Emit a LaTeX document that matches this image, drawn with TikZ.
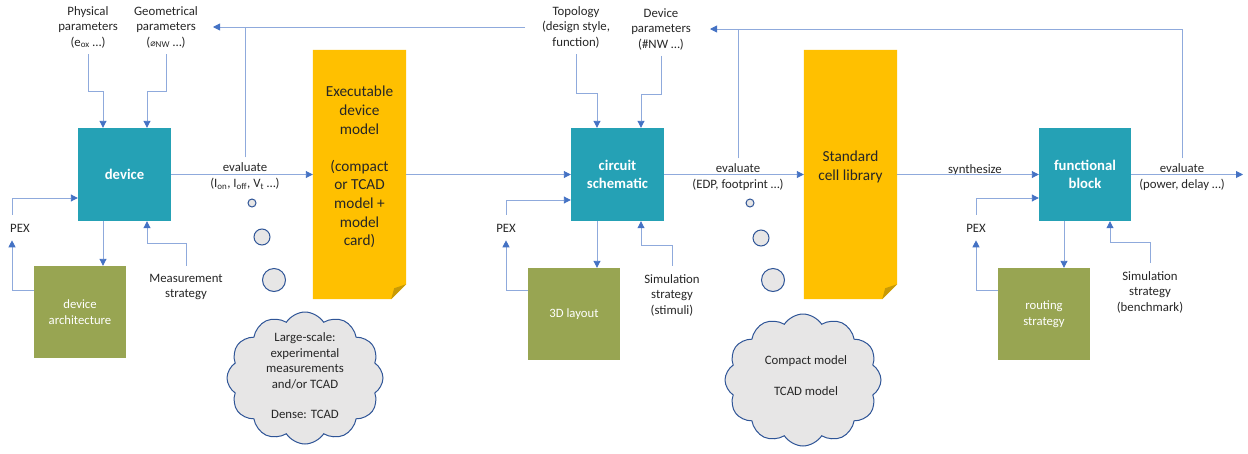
\documentclass[tikz,border=0pt]{standalone}
\usepackage{fontspec}
\setmainfont{Carlito}
\newfontfamily\symfont{DejaVu Sans}
\usetikzlibrary{arrows.meta,shapes.symbols,calc}
\definecolor{boxteal}{HTML}{25A1B5}
\definecolor{boxgreen}{HTML}{98A552}
\definecolor{noteyel}{HTML}{FFC000}
\definecolor{notefold}{HTML}{C89A06}
\definecolor{cloudfill}{HTML}{E7E6E6}
\definecolor{cloudline}{HTML}{2F5597}
\definecolor{linec}{HTML}{8FAADC}
\definecolor{headc}{HTML}{4472C4}
\definecolor{txtc}{HTML}{262626}
\begin{document}
\begin{tikzpicture}[x=1pt,y=-1pt,
  blk/.style={fill=boxteal, text=white, font=\bfseries\fontsize{14.7}{18}\selectfont, minimum width=93pt, minimum height=93pt, inner sep=0pt, align=center},
  grn/.style={fill=boxgreen, text=white, font=\fontsize{12.7}{16}\selectfont, minimum width=92pt, minimum height=92pt, inner sep=0pt, align=center},
  lbl/.style={text=txtc, font=\fontsize{12.8}{15.5}\selectfont, align=center, inner sep=1pt},
  evl/.style={text=txtc, font=\fontsize{12.8}{16}\selectfont, align=center, inner sep=1pt},
  notebox/.style={minimum width=93pt, minimum height=249pt, inner sep=0pt},
  notetxt/.style={text=txtc, font=\fontsize{15.3}{18.6}\selectfont, align=center, inner sep=0pt},
  bubble/.style={circle, draw=cloudline, fill=cloudfill, line width=1pt, inner sep=0pt},
  thought/.style={cloud, cloud puffs=12, cloud puff arc=115, aspect=1.2, draw=cloudline, fill=cloudfill, line width=1pt, minimum width=156pt, minimum height=132pt, inner sep=0pt},
  conn/.style={draw=linec, line width=0.9pt, -{Triangle[length=7pt,width=7pt,color=headc]}},
  wire/.style={draw=linec, line width=0.9pt}]
\useasboundingbox (0,0) rectangle (1248,453);

% main blocks
\node[blk] (dev) at (124.5,174.5) {device};
\node[blk] (circ) at (617.5,174.5) {circuit\\schematic};
\node[blk, minimum width=92pt] (func) at (1085,174.5) {functional\\block};
\node[grn] (arch) at (80,312) {device\\architecture};
\node[grn] (lay) at (574,314) {3D layout};
\node[grn] (rout) at (1044,314) {routing\\strategy};

% notes
\node[notebox] (exe) at (359.5,174.5) {};
\node[notebox] (std) at (850.5,174.5) {};
\foreach \n in {exe,std}{
  \fill[noteyel] (\n.north west) -- (\n.north east) -- ($(\n.south east)+(0,-15)$) -- ($(\n.south east)+(-15,0)$) -- (\n.south west) -- cycle;
  \fill[notefold] ($(\n.south east)+(0,-15)$) -- ($(\n.south east)+(-15,0)$) -- ($(\n.south east)+(-12,-11)$) -- cycle;
}
\node[notetxt] (exet) at (359.5,167) {Executable\\device\\model\\[18.6pt](compact\\or TCAD\\model +\\model\\card)};
\node[notetxt] (stdt) at (850.5,167) {Standard\\cell library};

% labels
\node[lbl] (phys) at (88,27) {Physical\\parameters\\(e\textsubscript{ox} …)};
\node[lbl] (geo) at (166,27) {Geometrical\\parameters\\({\symfont\fontsize{9}{9}\selectfont ⌀}\textsubscript{NW} …)};
\node[lbl] (topo) at (576,27) {Topology\\(design style,\\function)};
\node[lbl] (devp) at (661,29) {Device\\parameters\\(\#NW …)};
\node[lbl] (meas) at (186,287) {Measurement\\strategy};
\node[lbl] (sim1) at (672,295) {Simulation\\strategy\\(stimuli)};
\node[lbl] (sim2) at (1150,292) {Simulation\\strategy\\(benchmark)};
\node[lbl] (pex1) at (20,228) {PEX};
\node[lbl] (pex2) at (506,228) {PEX};
\node[lbl] (pex3) at (976,228) {PEX};
\node[evl] (ev1) at (245,176) {evaluate\\(I\textsubscript{on}, I\textsubscript{off}, V\textsubscript{t} …)};
\node[evl] (ev2) at (738,177) {evaluate\\(EDP, footprint …)};
\node[evl] (ev3) at (1182,177) {evaluate\\(power, delay …)};
\node[lbl] (syn) at (975,170) {synthesize};

% thought bubbles and clouds
\node[bubble, minimum size=8pt] (b11) at (252,203) {};
\node[bubble, minimum size=16pt] (b12) at (262,237) {};
\node[bubble, minimum size=23pt] (b13) at (274,280) {};
\node[bubble, minimum size=8pt] (b21) at (750,203) {};
\node[bubble, minimum size=16pt] (b22) at (761,238) {};
\node[bubble, minimum size=23pt] (b23) at (773,280) {};
\node[thought] (cl1) at (305,378) {};
\node[thought] (cl2) at (803,380) {};
\node[lbl] (cl1t) at (305,376) {Large-scale:\\experimental\\measurements\\and/or TCAD\\[15pt]Dense: TCAD};
\node[lbl] (cl2t) at (806,375.5) {Compact model\\[15.5pt]TCAD model};

% main flow
\coordinate (out) at (1243,174.5);
\draw[conn] (dev.east) -- (exe.west);
\draw[conn] (exe.east) -- (circ.west);
\draw[conn] (circ.east) -- (std.west);
\draw[conn] (std.east) -- (func.west);
\draw[conn] (func.east) -- (out);

% inputs from top
\draw[conn] ([yshift=-5pt]phys.south) |- (103,91) -- (103,0 |- dev.north);
\draw[conn] ([yshift=-5pt]geo.south) |- (147,91) -- (147,0 |- dev.north);
\draw[conn] ([yshift=-5pt]topo.south) |- (597,93) -- (597,0 |- circ.north);
\draw[conn] ([yshift=-5pt]devp.south) |- (641,94) -- (641,0 |- circ.north);

% down arrows
\draw[conn] (103,0 |- dev.south) -- (103,0 |- arch.north);
\draw[conn] (597,0 |- circ.south) -- (597,0 |- lay.north);
\draw[conn] (1064,0 |- func.south) -- (1064,0 |- rout.north);

% strategies
\draw[conn] ([yshift=7pt]meas.north) |- (147,243) -- (147,0 |- dev.south);
\draw[conn] ([yshift=7pt]sim1.north) |- (641,245) -- (641,0 |- circ.south);
\draw[conn] ([yshift=7pt]sim2.north) |- (1110,242) -- (1110,0 |- func.south);

% PEX loops
\draw[conn] (arch.west |- 0,290) -| ([xshift=-8pt,yshift=-7pt]pex1.south);
\draw[conn] ([xshift=-8pt,yshift=8pt]pex1.north) |- (dev.west |- 0,198);
\draw[conn] (lay.west |- 0,290) -| ([yshift=-7pt]pex2.south);
\draw[conn] ([yshift=8pt]pex2.north) |- (circ.west |- 0,200);
\draw[conn] (rout.west |- 0,290) -| ([yshift=-7pt]pex3.south);
\draw[conn] ([yshift=8pt]pex3.north) |- (func.west |- 0,198);

% feedback lines
\coordinate (geoin) at (213,27);
\coordinate (topoend) at (525,27);
\coordinate (devpin) at (710,29);
\draw[conn] ([yshift=4pt]ev1.north) |- (geoin);
\draw[wire] (topoend) -- (ev1.north |- geoin);
\draw[conn] ([yshift=4pt]ev3.north) |- (devpin);
\draw[wire] ([yshift=4pt]ev2.north) -- (ev2.north |- devpin);
\end{tikzpicture}
\end{document}
